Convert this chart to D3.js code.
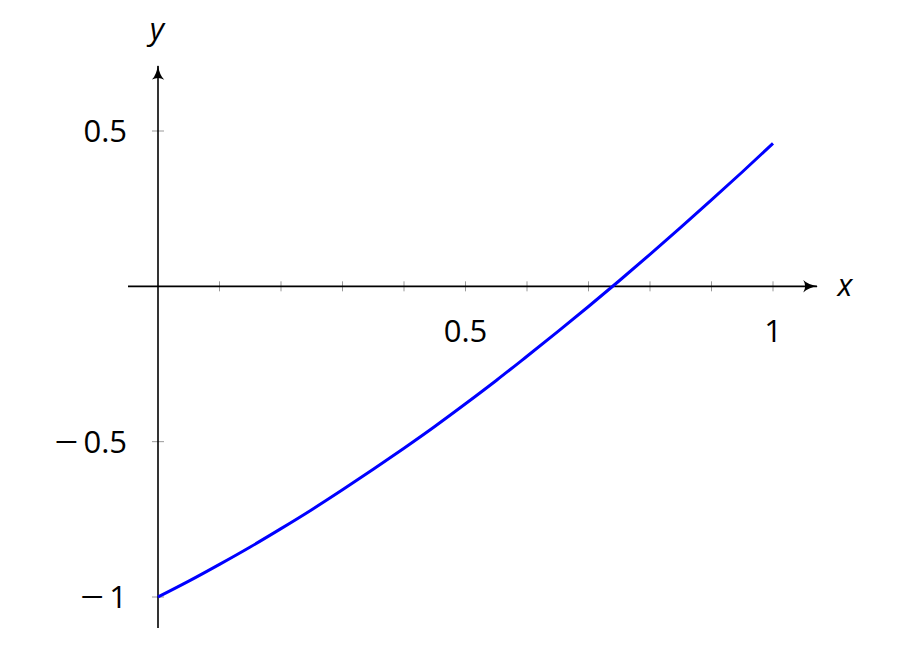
<!DOCTYPE html>
<html>
<head>
<meta charset="utf-8">
<script src="https://cdn.jsdelivr.net/npm/d3@7"></script>
<style>
  body { margin: 0; background: #fff; }
  .ticklabel { font-family: "Open Sans", sans-serif; font-size: 31px; fill: #000; }
  .axislabel { font-family: "Open Sans", sans-serif; font-size: 31px; font-style: italic; fill: #000; }
</style>
</head>
<body>
<svg></svg>
<script>
// values
var xs = [0, 0.05, 0.1, 0.15, 0.2, 0.25, 0.3, 0.35, 0.4, 0.45, 0.5,
          0.55, 0.6, 0.65, 0.7, 0.75, 0.8, 0.85, 0.9, 0.95, 1];
var ys = [-1, -0.949, -0.895, -0.839, -0.780, -0.719, -0.655, -0.589, -0.521, -0.451, -0.378,
          -0.303, -0.225, -0.146, -0.065, 0.018, 0.103, 0.190, 0.278, 0.368, 0.460];
var xTicks = [0.1, 0.2, 0.3, 0.4, 0.5, 0.6, 0.7, 0.8, 0.9, 1];
var xTickLabels = [0.5, 1];
var yTicks = [-1, -0.5, 0.5];

var width = 898, height = 656;
var svg = d3.select('svg').attr('width', width).attr('height', height);

var x = d3.scaleLinear().domain([0, 1]).range([158, 773]);
var y = d3.scaleLinear().domain([-1, 0.5]).range([597, 131]);

var defs = svg.append('defs');
defs.append('marker')
    .attr('id', 'arrow')
    .attr('viewBox', '0 0 12 10')
    .attr('refX', 11).attr('refY', 5)
    .attr('markerWidth', 15).attr('markerHeight', 13)
    .attr('markerUnits', 'userSpaceOnUse')
    .attr('orient', 'auto')
    .append('path')
    .attr('d', 'M0,0 Q4,4 12,5 Q4,6 0,10 Q3,5 0,0 Z')
    .attr('fill', '#000');

// tick marks
svg.selectAll('.xtick').data(xTicks).enter().append('line')
    .attr('class', 'xtick')
    .attr('x1', function(d) { return x(d); }).attr('x2', function(d) { return x(d); })
    .attr('y1', y(0) - 5).attr('y2', y(0) + 5)
    .attr('stroke', '#999').attr('stroke-width', 1);
svg.selectAll('.ytick').data(yTicks).enter().append('line')
    .attr('class', 'ytick')
    .attr('x1', x(0) - 6).attr('x2', x(0) + 6)
    .attr('y1', function(d) { return y(d); }).attr('y2', function(d) { return y(d); })
    .attr('stroke', '#999').attr('stroke-width', 1);

// axes
svg.append('line')
    .attr('x1', 128).attr('x2', 817)
    .attr('y1', y(0)).attr('y2', y(0))
    .attr('stroke', '#000').attr('stroke-width', 1.6)
    .attr('marker-end', 'url(#arrow)');
svg.append('line')
    .attr('x1', x(0)).attr('x2', x(0))
    .attr('y1', 628).attr('y2', 66)
    .attr('stroke', '#000').attr('stroke-width', 1.6)
    .attr('marker-end', 'url(#arrow)');

// tick labels
svg.selectAll('.xlab').data(xTickLabels).enter().append('text')
    .attr('class', 'ticklabel')
    .attr('x', function(d) { return x(d); })
    .attr('y', 342)
    .attr('text-anchor', 'middle')
    .text(function(d) { return d; });

svg.selectAll('.ylab').data(yTicks).enter().append('text')
    .attr('class', 'ticklabel')
    .attr('x', 127)
    .attr('y', function(d) { return y(d) + 11; })
    .attr('text-anchor', 'end')
    .each(function(d) {
        var t = d3.select(this);
        if (d < 0) {
            t.append('tspan').attr('textLength', 24).attr('lengthAdjust', 'spacingAndGlyphs').text('\u2212');
            t.append('tspan').attr('dx', 5).text(Math.abs(d));
        } else {
            t.text(d);
        }
    });

svg.append('text').attr('class', 'axislabel')
    .attr('x', 845).attr('y', 296).attr('text-anchor', 'middle').text('x');
svg.append('text').attr('class', 'axislabel')
    .attr('x', 157).attr('y', 40).attr('text-anchor', 'middle').text('y');

// curve
var pts = xs.map(function(v, i) { return [v, ys[i]]; });
svg.append('path')
    .datum(pts)
    .attr('fill', 'none')
    .attr('stroke', '#0000ff')
    .attr('stroke-width', 3)
    .attr('d', d3.line()
        .x(function(d) { return x(d[0]); })
        .y(function(d) { return y(d[1]); })
        .curve(d3.curveMonotoneX));
</script>
</body>
</html>
